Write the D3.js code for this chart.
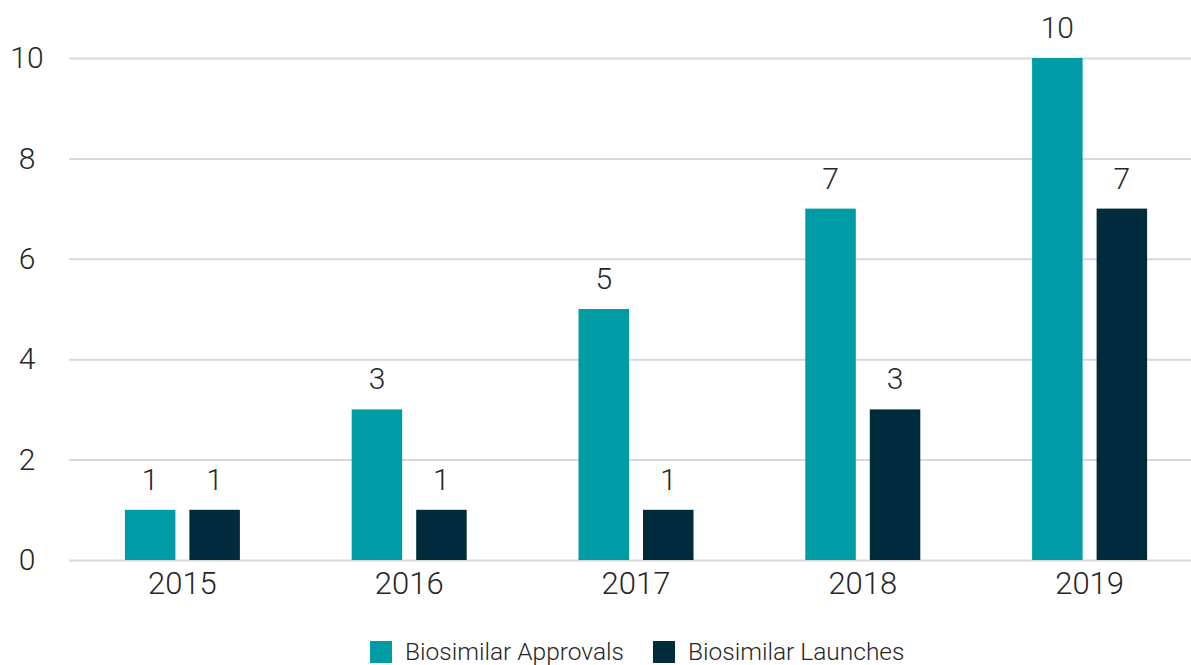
<!DOCTYPE html>
<html>
<head>
<meta charset="utf-8">
<script src="https://cdn.jsdelivr.net/npm/d3@7"></script>
<style>
  body { margin: 0; background: #fff; }
  text { font-family: "Roboto", "Liberation Sans", sans-serif; font-weight: 300; fill: #262626; }
</style>
</head>
<body>
<div id="chart"></div>
<script>
var years = ["2015", "2016", "2017", "2018", "2019"]
var series = ["Biosimilar Approvals", "Biosimilar Launches"]
var approvals = [1, 3, 5, 7, 10]
var launches = [1, 1, 1, 3, 7]
var yTicks = [0, 2, 4, 6, 8, 10]

var colors = ["#009ca6", "#002b3d"]

var width = 1191, height = 665
var svg = d3.select("#chart").append("svg")
    .attr("width", width)
    .attr("height", height)

var x = d3.scaleBand().domain(years).range([69, 1203])
var y = d3.scaleLinear().domain([0, 10]).range([560, 58])

// gridlines + y labels (labels centred in the left margin)
var yAxis = d3.axisLeft(y).tickValues(yTicks).tickSize(-(1203 - 69)).tickPadding(0)
var gy = svg.append("g").attr("transform", "translate(69,0)").call(yAxis)
gy.select(".domain").remove()
gy.selectAll("line").attr("stroke", "#d9d9d9").attr("stroke-width", 2)
gy.selectAll("text")
    .attr("x", 27 - 69)
    .attr("text-anchor", "middle")
    .attr("font-size", 30)
    .attr("fill", "#262626")

// x labels
var xAxis = d3.axisBottom(x).tickSize(0).tickPadding(11)
var gx = svg.append("g").attr("transform", "translate(0,560)").call(xAxis)
gx.select(".domain").remove()
gx.selectAll("text").attr("font-size", 31).attr("fill", "#262626").attr("dy", "0.75em")

var barW = 50.5, gap = 14
var rows = years.map(function(d, i) { return {year: d, values: [approvals[i], launches[i]]} })

var grp = svg.selectAll(".year").data(rows).enter().append("g")
    .attr("transform", function(d) { return "translate(" + (x(d.year) + x.bandwidth() / 2) + ",0)" })

grp.selectAll("rect").data(function(d) { return d.values }).enter().append("rect")
    .attr("x", function(d, i) { return i === 0 ? -gap / 2 - barW : gap / 2 })
    .attr("y", function(d) { return y(d) })
    .attr("width", barW)
    .attr("height", function(d) { return y(0) - y(d) })
    .attr("fill", function(d, i) { return colors[i] })

grp.selectAll(".val").data(function(d) { return d.values }).enter().append("text")
    .attr("class", "val")
    .attr("x", function(d, i) { return i === 0 ? -gap / 2 - barW / 2 : gap / 2 + barW / 2 })
    .attr("y", function(d) { return y(d) - 20 })
    .attr("text-anchor", "middle")
    .attr("font-size", 30)
    .text(function(d) { return d })

// legend
var legX = [370, 653]
var leg = svg.selectAll(".legend").data(series).enter().append("g")
    .attr("transform", function(d, i) { return "translate(" + legX[i] + ",641)" })
leg.append("rect").attr("width", 22).attr("height", 22).attr("fill", function(d, i) { return colors[i] })
leg.append("text").attr("x", 35).attr("y", 19).attr("font-size", 24.5).text(function(d) { return d })
</script>
</body>
</html>
